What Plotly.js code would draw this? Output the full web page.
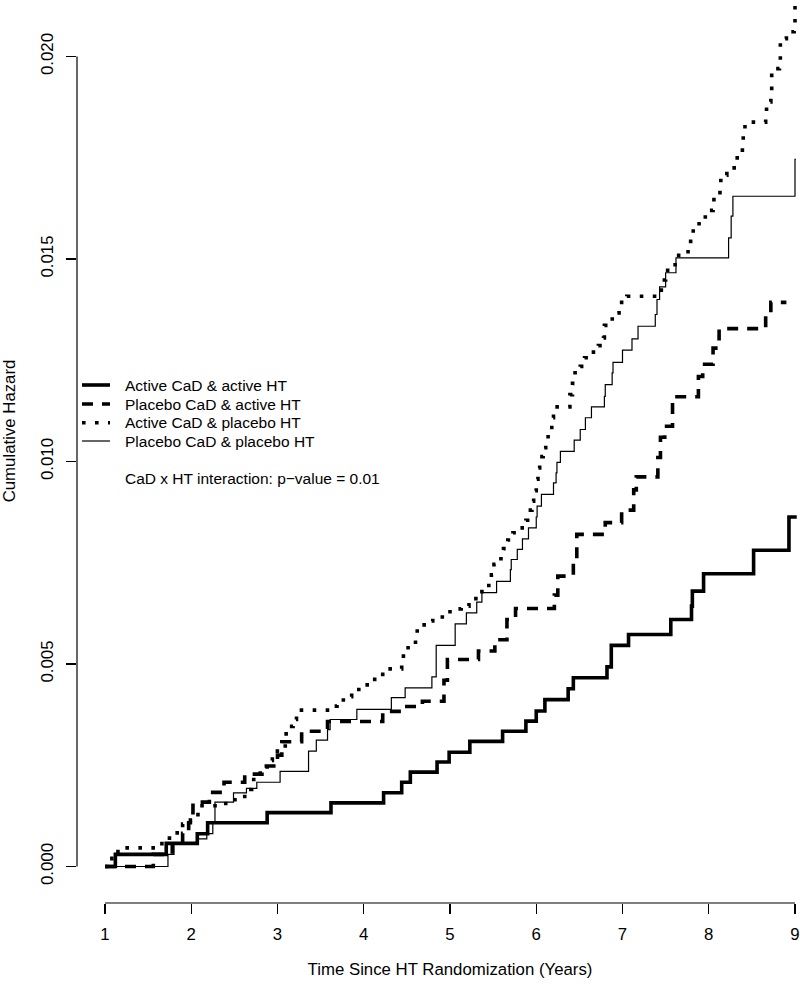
<!DOCTYPE html>
<html><head><meta charset="utf-8">
<script src="https://cdn.plot.ly/plotly-3.0.1.min.js"></script>
<style>
html,body{margin:0;padding:0;overflow:hidden;background:#fff;width:800px;height:984px}
#chart{position:absolute;left:0;top:-41px;width:823px;height:1025px}
</style>
</head><body><div id="chart"></div>
<script>
// ---- data ----
const seriesNames = ["Active CaD & active HT", "Placebo CaD & active HT", "Active CaD & placebo HT", "Placebo CaD & placebo HT"];
const xTicks = [1, 2, 3, 4, 5, 6, 7, 8, 9];
const yTicks = [0, 0.005, 0.010, 0.015, 0.020];
const yTickText = ["0.000", "0.005", "0.010", "0.015", "0.020"];
const noteText = "CaD x HT interaction: p\u2212value = 0.01";
const xTitle = "Time Since HT Randomization (Years)";
const yTitle = "Cumulative Hazard";

// Active CaD & active HT
const tAA = [1.00,1.12,1.71,2.07,2.19,2.88,3.62,4.23,4.44,4.54,4.85,4.99,5.23,5.61,5.88,6.00,6.10,6.37,6.43,6.82,6.87,7.07,7.56,7.80,7.81,7.94,8.52,8.93,9.02];
const hAA = [0,0.00030,0.00057,0.00081,0.00108,0.00133,0.00157,0.00182,0.00208,0.00233,0.00258,0.00282,0.00309,0.00334,0.00359,0.00384,0.00412,0.00439,0.00466,0.00493,0.00546,0.00573,0.00610,0.00643,0.00680,0.00723,0.00781,0.00863,0.00863];

// Placebo CaD & active HT
const tPA = [1.00,1.56,1.78,1.90,1.97,1.99,2.02,2.21,2.38,2.62,2.82,3.00,3.05,3.28,3.58,4.22,4.47,4.68,4.93,4.97,5.33,5.52,5.66,5.76,6.21,6.25,6.43,6.47,6.80,6.99,7.13,7.16,7.41,7.44,7.49,7.58,7.88,7.93,8.05,8.12,8.66,8.72,8.90];
const hPA = [0,0.00030,0.00055,0.00082,0.00108,0.00133,0.00159,0.00183,0.00208,0.00228,0.00248,0.00275,0.00308,0.00334,0.00358,0.00383,0.00395,0.00408,0.00460,0.00511,0.00532,0.00560,0.00610,0.00637,0.00670,0.00717,0.00760,0.00820,0.00849,0.00880,0.00930,0.00962,0.01010,0.01060,0.01087,0.01160,0.01210,0.01240,0.01280,0.01328,0.01360,0.01393,0.01393];

// Active CaD & placebo HT
const tAP = [1.00,1.08,1.15,1.66,1.78,1.90,1.99,2.10,2.40,2.62,2.70,2.80,2.88,2.94,3.09,3.10,3.18,3.22,3.61,3.69,3.80,3.86,4.04,4.22,4.44,4.46,4.60,4.62,4.70,4.80,5.00,5.13,5.22,5.30,5.37,5.45,5.48,5.51,5.59,5.62,5.67,5.73,5.81,5.88,5.90,5.95,5.97,6.00,6.02,6.04,6.08,6.11,6.17,6.18,6.20,6.39,6.42,6.45,6.51,6.56,6.64,6.72,6.78,6.79,6.86,6.93,6.96,7.05,7.43,7.45,7.50,7.61,7.76,7.79,7.82,7.96,8.05,8.06,8.13,8.14,8.21,8.33,8.39,8.40,8.42,8.66,8.67,8.72,8.73,8.82,8.83,8.90,8.99,9.00,9.02];
const hAP = [0,0.00020,0.00046,0.00070,0.00083,0.00105,0.00128,0.00150,0.00165,0.00190,0.00215,0.00240,0.00262,0.00285,0.00318,0.00346,0.00363,0.00386,0.00396,0.00411,0.00419,0.00437,0.00462,0.00488,0.00507,0.00540,0.00564,0.00589,0.00606,0.00616,0.00636,0.00643,0.00651,0.00669,0.00684,0.00699,0.00720,0.00746,0.00760,0.00785,0.00806,0.00824,0.00836,0.00855,0.00880,0.00902,0.00928,0.00956,0.00984,0.01012,0.01034,0.01061,0.01077,0.01108,0.01135,0.01165,0.01193,0.01219,0.01235,0.01256,0.01270,0.01286,0.01305,0.01336,0.01352,0.01367,0.01393,0.01408,0.01423,0.01448,0.01472,0.01509,0.01536,0.01562,0.01587,0.01620,0.01630,0.01659,0.01676,0.01707,0.01725,0.01762,0.01780,0.01811,0.01838,0.01857,0.01888,0.01908,0.01970,0.01982,0.02044,0.02061,0.02073,0.02150,0.02150];

// Placebo CaD & placebo HT
const tPP = [1.00,1.73,1.80,2.08,2.18,2.25,2.275,2.49,2.64,2.76,3.03,3.36,3.45,3.58,3.61,3.92,4.32,4.48,4.79,4.84,5.06,5.19,5.31,5.37,5.54,5.70,5.71,5.78,5.84,5.91,6.00,6.01,6.06,6.20,6.23,6.24,6.28,6.44,6.51,6.57,6.64,6.79,6.80,6.88,6.89,7.00,7.11,7.18,7.38,7.40,7.43,7.50,7.62,8.23,8.26,8.28,9.00,9.01];
const hPP = [0,0.00030,0.00055,0.00068,0.00081,0.00108,0.00159,0.00182,0.00193,0.00208,0.00235,0.00285,0.00312,0.00338,0.00363,0.00388,0.00417,0.00441,0.00468,0.00546,0.00599,0.00626,0.00653,0.00676,0.00704,0.00733,0.00758,0.00783,0.00809,0.00836,0.00863,0.00890,0.00919,0.00947,0.00972,0.00998,0.01025,0.01053,0.01079,0.01108,0.01135,0.01161,0.01190,0.01219,0.01245,0.01275,0.01303,0.01334,0.01363,0.01400,0.01431,0.01466,0.01503,0.01552,0.01606,0.01655,0.01746,0.01746];

// ---- styles ----
const FONT = "Liberation Sans, Arial, Helvetica, sans-serif";
const W = 823, H = 1025, ML = 77, MB = 81, TOPSHIFT = 41;
const PW = W - ML, PH = H - MB;
const styles = [
  {width: 3.6, dash: "solid"},
  {width: 3.6, dash: "11px,9px"},
  {width: 3.6, dash: "3.6px,9.4px"},
  {width: 1.2, dash: "solid"}
];
const tArr = [tAA, tPA, tAP, tPP];
const hArr = [hAA, hPA, hAP, hPP];

// page pixel -> paper coordinates (for legend/annotation placement)
const pX = px => (px - ML) / PW;
const pY = py => (PH - (py + TOPSHIFT)) / PH;

const traces = seriesNames.map((nm, i) => ({
  type: "scatter", mode: "lines", name: nm,
  x: tArr[i], y: hArr[i],
  line: {shape: "hv", color: "#000", width: styles[i].width, dash: styles[i].dash},
  showlegend: false, hoverinfo: "skip"
}));

// manual legend (R-style)
const legRows = [385, 404, 422.7, 441];
const shapes = [
  {type: "line", xref: "x", yref: "paper", x0: xTicks[0], x1: xTicks[xTicks.length-1], y0: 0, y1: 0, line: {color: "#000", width: 1.2}},
  {type: "line", xref: "paper", yref: "y", x0: 0, x1: 0, y0: yTicks[0], y1: yTicks[yTicks.length-1], line: {color: "#000", width: 1.2}}
];
const annotations = [];
seriesNames.forEach((nm, i) => {
  shapes.push({type: "line", xref: "paper", yref: "paper", x0: pX(82), x1: pX(110), y0: pY(legRows[i]), y1: pY(legRows[i]),
    line: {color: "#000", width: styles[i].width, dash: styles[i].dash}});
  annotations.push({xref: "paper", yref: "paper", x: pX(123), y: pY(legRows[i]), xanchor: "left", yanchor: "middle",
    text: nm, showarrow: false, font: {family: FONT, size: 15.5, color: "#000"}});
});
annotations.push({xref: "paper", yref: "paper", x: pX(123), y: pY(478), xanchor: "left", yanchor: "middle",
  text: noteText, showarrow: false, font: {family: FONT, size: 15.5, color: "#000"}});

const pxPerX = 86.25, pxPerY = 40500;
const xmin = 1 - 28 / pxPerX;
const ymin = -(PH - (866.5 + TOPSHIFT)) / pxPerY;

const layout = {
  width: W, height: H,
  margin: {l: ML, r: 0, t: 0, b: MB, pad: 0},
  paper_bgcolor: "#fff", plot_bgcolor: "#fff",
  font: {family: FONT, size: 16.8, color: "#000"},
  showlegend: false,
  xaxis: {
    range: [xmin, xmin + PW / pxPerX], tickvals: xTicks, ticktext: xTicks.map(String),
    showgrid: false, zeroline: false, showline: false,
    ticks: "outside", ticklen: 10, tickwidth: 1.2, tickcolor: "#000",
    ticklabelstandoff: 6,
    tickfont: {family: FONT, size: 16.8, color: "#000"},
    title: {text: xTitle, font: {family: FONT, size: 16.8, color: "#000"}, standoff: 20},
    automargin: false, fixedrange: true
  },
  yaxis: {
    range: [ymin, ymin + PH / pxPerY], tickvals: yTicks, ticktext: yTickText,
    showgrid: false, zeroline: false, showline: false,
    ticks: "outside", ticklen: 10, tickwidth: 1.2, tickcolor: "#000",
    tickangle: -90, ticklabelstandoff: 6,
    tickfont: {family: FONT, size: 16.8, color: "#000"},
    title: {text: yTitle, font: {family: FONT, size: 16.8, color: "#000"}, standoff: 20},
    automargin: false, fixedrange: true
  },
  shapes: shapes,
  annotations: annotations
};

Plotly.newPlot("chart", traces, layout, {displayModeBar: false, staticPlot: true});
</script>
</body></html>
